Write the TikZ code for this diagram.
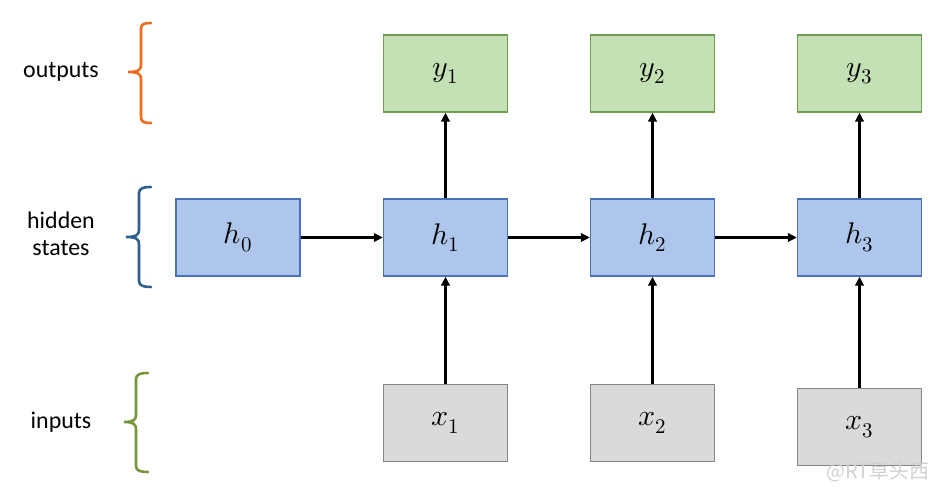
\documentclass[tikz,border=0pt]{standalone}
\usepackage{fontspec}
\usepackage{unicode-math}
\setmainfont{Carlito}
\setmathfont{Latin Modern Math}
\newfontfamily\cjk{Noto Sans CJK SC}
\usetikzlibrary{arrows.meta}
\definecolor{hfill}{HTML}{AEC6EC}
\definecolor{hdraw}{HTML}{4A72B8}
\definecolor{yfill}{HTML}{C3E1B4}
\definecolor{ydraw}{HTML}{6FA04F}
\definecolor{xfill}{HTML}{DADADA}
\definecolor{xdraw}{HTML}{858585}
\definecolor{bro}{HTML}{F26A1B}
\definecolor{brb}{HTML}{2F5F8E}
\definecolor{brg}{HTML}{77963A}
\tikzset{
  x=1bp, y=-1bp,
  cell/.style={draw, line width=1.3bp, minimum width=124bp, minimum height=77bp, inner sep=0pt, font=\fontsize{30}{34}\selectfont},
  hbox/.style={cell, fill=hfill, draw=hdraw},
  ybox/.style={cell, fill=yfill, draw=ydraw},
  xbox/.style={cell, fill=xfill, draw=xdraw},
  conn/.style={line width=2.6bp, -{Triangle[length=9bp,width=8.5bp]}},
  brace/.style={line width=2.6bp, line cap=round},
  lab/.style={font=\fontsize{24}{28}\selectfont, align=center, inner sep=0pt}
}
\begin{document}
\begin{tikzpicture}
\useasboundingbox (0,0) rectangle (948,500);
% hidden states
\node[hbox] (h0) at (238,237.5) {$h_0$};
\node[hbox] (h1) at (445.5,237.5) {$h_1$};
\node[hbox] (h2) at (652.5,237.5) {$h_2$};
\node[hbox] (h3) at (859.5,237.5) {$h_3$};
% outputs
\node[ybox] (y1) at (445.5,73.5) {$y_1$};
\node[ybox] (y2) at (652.5,73.5) {$y_2$};
\node[ybox] (y3) at (859.5,73.5) {$y_3$};
% inputs
\node[xbox] (x1) at (445.5,423) {$x_1$};
\node[xbox] (x2) at (652.5,423) {$x_2$};
\node[xbox] (x3) at (859.5,427) {$x_3$};
% connectors
\draw[conn] (h0) -- (h1);
\draw[conn] (h1) -- (h2);
\draw[conn] (h2) -- (h3);
\draw[conn] (h1) -- (y1);
\draw[conn] (h2) -- (y2);
\draw[conn] (h3) -- (y3);
\draw[conn] (x1) -- (h1);
\draw[conn] (x2) -- (h2);
\draw[conn] (x3) -- (h3);
% labels
\node[lab] (lo) at (61,72) {outputs};
\node[lab] (lh) at (61,233.5) {hidden\\[-1pt]states};
\node[lab] (li) at (61,422) {inputs};
% braces
\draw[brace, bro] (151,23) .. controls (144,23) and (141,24) .. (141,29) -- (141,65)
  .. controls (141,70) and (138,72) .. (128,72)
  .. controls (138,72) and (141,74) .. (141,79) -- (141,117)
  .. controls (141,122) and (144,123) .. (151,123);
\draw[brace, brb] (151,187) .. controls (144,187) and (139,188) .. (139,193) -- (139,230)
  .. controls (139,235) and (136,237) .. (126,237)
  .. controls (136,237) and (139,239) .. (139,244) -- (139,281)
  .. controls (139,286) and (144,287) .. (151,287);
\draw[brace, brg] (148,373) .. controls (141,373) and (136,374) .. (136,379) -- (136,415)
  .. controls (136,420) and (133,422) .. (124,422)
  .. controls (133,422) and (136,424) .. (136,429) -- (136,466)
  .. controls (136,471) and (141,472) .. (148,472);
% watermark
\node[font=\cjk\fontsize{20}{22}\selectfont, text=black!18, inner sep=0pt, anchor=west] (wm) at (826,472) {@RT草头西};
\end{tikzpicture}
\end{document}
